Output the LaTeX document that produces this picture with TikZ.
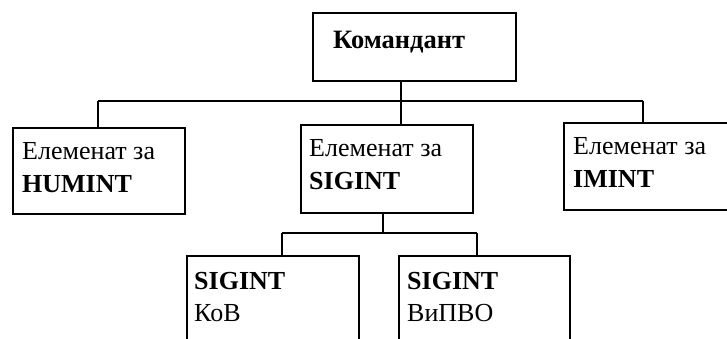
\documentclass[tikz,border=0pt]{standalone}
\usepackage{fontspec}
\setmainfont{Liberation Serif}
\begin{document}
\begin{tikzpicture}[x=1pt,y=-1pt,
  box/.style={draw,line width=1.6pt,rectangle,inner sep=0pt,anchor=north west},
  txt/.style={anchor=base west,inner sep=0pt,font=\fontsize{26}{30}\selectfont},
  btxt/.style={anchor=base west,inner sep=0pt,font=\fontsize{26}{30}\selectfont\bfseries},
  link/.style={line width=1.6pt}]
\useasboundingbox (0,0) rectangle (727,339);
% boxes
\node[box,minimum width=203pt,minimum height=68pt] (top) at (312,12) {};
\node[box,minimum width=172pt,minimum height=86pt] (hum) at (12,127) {};
\node[box,minimum width=172pt,minimum height=88pt] (sig) at (300,124) {};
\node[box,minimum width=166pt,minimum height=87pt] (ima) at (563,122) {};
\node[box,minimum width=172pt,minimum height=100pt] (kov) at (186,255) {};
\node[box,minimum width=171pt,minimum height=100pt] (vpvo) at (398,255) {};
% texts
\node[btxt,font=\fontsize{26.5}{30}\selectfont\bfseries] (ttop) at (333,49) {Командант};
\node[txt] (th1) at (22,160) {Елеменат за};
\node[btxt] (th2) at (22,192) {HUMINT};
\node[txt] (ts1) at (309,157) {Елеменат за};
\node[btxt] (ts2) at (309,189) {SIGINT};
\node[txt] (ti1) at (573,155) {Елеменат за};
\node[btxt] (ti2) at (573,187) {IMINT};
\node[btxt] (tk1) at (194,289) {SIGINT};
\node[txt] (tk2) at (194,321) {КоВ};
\node[btxt] (tv1) at (407,289) {SIGINT};
\node[txt] (tv2) at (407,321) {ВиПВО};
% junctions
\coordinate (j1) at (401,101);
\coordinate (jh) at (98,101);
\coordinate (ji) at (643,101);
\coordinate (j2) at (383,233);
\coordinate (jk) at (282,233);
\coordinate (jv) at (477,233);
% connectors
\draw[link] (top.south -| j1) -- (j1);
\draw[link] (jh) -- (ji);
\draw[link] (jh) -- (hum.north -| jh);
\draw[link] (j1) -- (sig.north -| j1);
\draw[link] (ji) -- (ima.north -| ji);
\draw[link] (sig.south -| j2) -- (j2);
\draw[link] (jk) -- (jv);
\draw[link] (jk) -- (kov.north -| jk);
\draw[link] (jv) -- (vpvo.north -| jv);
\end{tikzpicture}
\end{document}
